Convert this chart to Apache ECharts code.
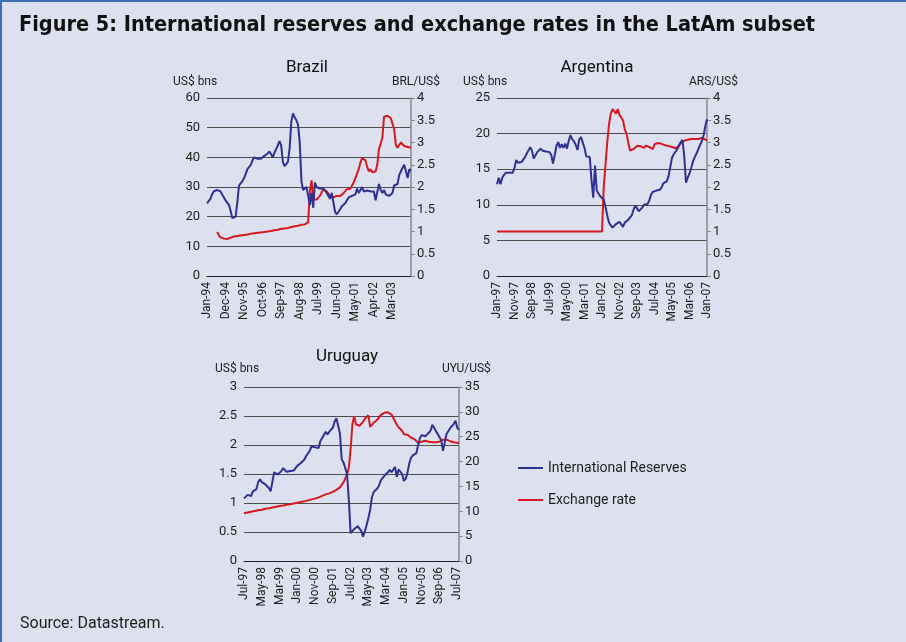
<!DOCTYPE html>
<html>
<head>
<meta charset="utf-8">
<script src="https://cdn.jsdelivr.net/npm/echarts@6/dist/echarts.min.js"></script>
<style>
  html, body { margin: 0; padding: 0; background: #dde0ef; }
  #chart { position: absolute; left: 0; top: 0; width: 906px; height: 642px; }
  #frame { position: absolute; left: 0; top: 0; width: 906px; height: 642px; box-sizing: border-box;
           border-top: 2px solid #3f6fb6; border-left: 2px solid #3f6fb6; pointer-events: none; }
</style>
</head>
<body>
<div id="chart"></div>
<div id="frame"></div>
<script>
// month labels like 'Jan-94'
const MONTHS = ['Jan', 'Feb', 'Mar', 'Apr', 'May', 'Jun', 'Jul', 'Aug', 'Sep', 'Oct', 'Nov', 'Dec']
function monthRange(year, month, count) {
  const out = []
  for (let i = 0; i < count; i++) {
    const m = (month + i) % 12
    const y = year + Math.floor((month + i) / 12)
    out.push(MONTHS[m] + '-' + String(y).slice(2))
  }
  return out
}

// Brazil: Jan-94 .. Feb-04
const brazilMonths = monthRange(1994, 0, 122)
const brazilReserves = [
  24.5, 25, 26, 27.5, 28.5, 29, 29, 28.8, 28.5, 27.5, 27, 25.5,
  25, 24, 22, 19.5, 19, 20, 25, 30.5, 31, 32, 33, 34.5,
  36, 36.5, 37.5, 39, 40, 40.2, 39.5, 39.8, 39.5, 40, 40.5, 41,
  41.3, 42, 41, 40, 41.5, 41, 44, 45.5, 44, 38.5, 37, 37.5,
  38.5, 43, 52, 54.8, 53.5, 52.5, 51, 45, 32, 29, 28.5, 30,
  27, 24, 28, 23, 31.5, 30, 29.5, 29.5, 29, 29.5, 29.5, 28,
  27.5, 26, 28, 28.5, 21.5, 20.8, 21, 22.5, 23.5, 23.8, 24.5, 25.5,
  26.5, 27, 27, 27.2, 27.5, 29.5, 28, 29, 30, 28.5, 29, 28.8,
  29, 28.5, 28.8, 28.5, 25.5, 25, 31, 29, 28, 29, 27.5, 27,
  27, 27.5, 28, 30.5, 30, 31, 34, 34.5, 36.5, 37.5, 37, 33,
  36, 35.5
]
const brazilRate = [
  null, null, null, null, null, null, 0.99, 0.92, 0.87, 0.85, 0.84, 0.83,
  0.83, 0.84, 0.86, 0.88, 0.89, 0.9, 0.9, 0.91, 0.91, 0.92, 0.92, 0.93,
  0.93, 0.94, 0.95, 0.95, 0.96, 0.96, 0.97, 0.97, 0.98, 0.99, 0.99, 1.0,
  1.0, 1.01, 1.01, 1.02, 1.03, 1.04, 1.04, 1.05, 1.06, 1.06, 1.07, 1.08,
  1.08, 1.09, 1.10, 1.11, 1.12, 1.13, 1.13, 1.14, 1.15, 1.16, 1.16, 1.18,
  1.21, 1.9, 2.15, 1.72, 1.68, 1.72, 1.76, 1.8, 1.88, 1.95, 1.93, 1.9,
  1.85, 1.8, 1.78, 1.77, 1.8, 1.8, 1.81, 1.8, 1.83, 1.86, 1.9, 1.95,
  1.97, 1.96, 2.0, 2.1, 2.2, 2.3, 2.4, 2.55, 2.65, 2.68, 2.6, 2.45,
  2.35, 2.4, 2.33, 2.3, 2.35, 2.5, 2.85, 2.97, 3.1, 3.58, 3.6, 3.6,
  3.57, 3.55, 3.58, 3.3, 2.95, 2.88, 2.9, 3.0, 2.97, 2.92, 2.88, 2.9,
  2.87, 2.88
]

// Argentina: Jan-97 .. Jan-07
const argentinaMonths = monthRange(1997, 0, 121)
const argentinaReserves = [
  12.9, 13.8, 12.9, 13.8, 14.2, 14.5, 14.6, 14.5, 14.3, 14.5, 15.2, 16.3,
  15.9, 16, 16, 15.9, 16.7, 17.2, 17.1, 18.1, 17.6, 16.5, 16.5, 17.4,
  17.6, 17.9, 17.6, 17.4, 17.5, 17.6, 17.4, 17, 15.8, 17, 18.3, 18.8,
  18, 18.5, 18, 18.6, 17.9, 19, 19.8, 19.2, 18.9, 18.4, 17.7, 19.2,
  19.5, 19.6, 18, 16.8, 16.6, 16.7, 13.5, 11, 15.5, 12, 11.6, 11.2,
  11, 10.7, 9.7, 8.5, 7.5, 7.1, 6.8, 7, 7.3, 7.5, 7.6, 7.4,
  6.9, 7.5, 7.7, 7.9, 8.1, 8.5, 9.3, 9.9, 9.5, 9.1, 9.3, 9.6,
  10, 10, 10.1, 10.6, 11.4, 11.8, 12, 12, 12, 12.1, 12.4, 13,
  13.2, 13.3, 14, 15.3, 16.6, 17.1, 17.3, 17.8, 18.4, 18.8, 19.1, 16.8,
  13.1, 13.8, 14.4, 15.2, 16.1, 16.7, 17.2, 17.8, 18.4, 18.9, 19.7, 21,
  22
]
const argentinaRate = [
  1, 1, 1, 1, 1, 1, 1, 1, 1, 1, 1, 1,
  1, 1, 1, 1, 1, 1, 1, 1, 1, 1, 1, 1,
  1, 1, 1, 1, 1, 1, 1, 1, 1, 1, 1, 1,
  1, 1, 1, 1, 1, 1, 1, 1, 1, 1, 1, 1,
  1, 1, 1, 1, 1, 1, 1, 1, 1, 1, 1, 1,
  1, 2.0, 2.5, 3.0, 3.4, 3.65, 3.75, 3.7, 3.65, 3.75, 3.62, 3.62,
  3.5, 3.3, 3.2, 3.0, 2.82, 2.8, 2.85, 2.82, 2.92, 2.88, 2.92, 2.9,
  2.88, 2.93, 2.95, 2.9, 2.92, 2.85, 2.96, 2.98, 2.99, 2.98, 2.97, 2.96,
  2.94, 2.93, 2.92, 2.9, 2.9, 2.88, 2.87, 2.88, 2.92, 2.98, 3.02, 3.04,
  3.06, 3.06, 3.07, 3.08, 3.07, 3.08, 3.09, 3.08, 3.1, 3.1, 3.09, 3.07,
  3.05
]

// Uruguay: Jul-97 .. Aug-07
const uruguayMonths = monthRange(1997, 6, 122)
const uruguayReserves = [
  1.08, 1.11, 1.14, 1.12, 1.12, 1.2, 1.22, 1.24, 1.36, 1.41, 1.36, 1.34,
  1.32, 1.3, 1.26, 1.2, 1.37, 1.53, 1.51, 1.49, 1.5, 1.55, 1.6, 1.57,
  1.54, 1.53, 1.55, 1.55, 1.56, 1.6, 1.64, 1.66, 1.69, 1.71, 1.75, 1.81,
  1.84, 1.9, 1.98, 2.0, 1.96, 1.98, 1.95, 2.07, 2.12, 2.12, 2.23, 2.18,
  2.23, 2.22, 2.3, 2.4, 2.46, 2.48, 2.2, 1.75, 1.7, 1.67, 1.5, 1.05,
  0.48, 0.51, 0.55, 0.54, 0.6, 0.56, 0.52, 0.42, 0.51, 0.62, 0.74, 0.88,
  1.1, 1.19, 1.22, 1.25, 1.3, 1.39, 1.43, 1.47, 1.5, 1.53, 1.57, 1.53,
  1.5, 1.62, 1.45, 1.58, 1.58, 1.5, 1.38, 1.42, 1.52, 1.68, 1.78, 1.82,
  1.8, 1.86, 2.0, 2.12, 2.17, 2.18, 2.15, 2.16, 2.21, 2.25, 2.35, 2.37,
  2.24, 2.19, 2.17, 2.08, 1.9, 2.05, 2.19, 2.22, 2.29, 2.32, 2.36, 2.42,
  2.3, 2.26
]
const uruguayRate = [
  9.6, 9.7, 9.75, 9.8, 9.9, 10.0, 10.05, 10.1, 10.2, 10.25, 10.3, 10.4,
  10.5, 10.55, 10.6, 10.7, 10.75, 10.8, 10.9, 11.0, 11.05, 11.1, 11.15, 11.2,
  11.3, 11.35, 11.4, 11.5, 11.55, 11.6, 11.7, 11.8, 11.85, 11.9, 12.0, 12.1,
  12.2, 12.3, 12.4, 12.45, 12.55, 12.65, 12.8, 12.95, 13.1, 13.25, 13.4, 13.5,
  13.6, 13.75, 13.9, 14.1, 14.3, 14.5, 14.8, 15.2, 15.8, 16.6, 17.4, 18.8,
  22.5, 27.5, 29.1, 27.5, 27.1, 27.2, 27.4, 28.0, 28.6, 29.0, 29.3, 27.0,
  27.4, 27.8, 28.1, 28.4, 28.9, 29.4, 29.7, 29.8, 29.9, 29.9, 29.8, 29.5,
  28.8, 28.1, 27.4, 26.9, 26.5, 26.2, 25.5, 25.8, 25.4, 25.0, 24.8, 24.6,
  24.5, 24.3, 23.8, 23.7, 24.0, 24.2, 24.2, 24.1, 24.0, 23.9, 23.9, 23.9,
  23.9, 23.9, 24.0, 24.1, 24.4, 24.5, 24.4, 24.3, 24.1, 24.0, 23.9, 23.9,
  23.8, 23.7
]

const BLUE = '#2e3192'
const RED = '#d7191f'
const FONT = 'Roboto'
const TEXT = '#1e1e1e'

// one panel = grid + bottom date axis + left reserves axis + right fx axis
const panels = [
  { name: 'Brazil', months: brazilMonths, res: brazilReserves, fx: brazilRate, every: 11, maxIdx: 110,
    grid: { left: 207, top: 98, width: 204, height: 178 }, leftMax: 60, leftStep: 10, rightMax: 4, rightStep: 0.5,
    unitL: { x: 173, y: 82 }, unitR: { x: 392, y: 82, text: 'BRL/US$' }, title: { x: 307, y: 68 } },
  { name: 'Argentina', months: argentinaMonths, res: argentinaReserves, fx: argentinaRate, every: 10, maxIdx: 120,
    grid: { left: 497, top: 98, width: 210, height: 178 }, leftMax: 25, leftStep: 5, rightMax: 4, rightStep: 0.5,
    unitL: { x: 463, y: 82 }, unitR: { x: 689, y: 82, text: 'ARS/US$' }, title: { x: 597, y: 68 } },
  { name: 'Uruguay', months: uruguayMonths, res: uruguayReserves, fx: uruguayRate, every: 10, maxIdx: 120,
    grid: { left: 244, top: 387, width: 215, height: 174 }, leftMax: 3, leftStep: 0.5, rightMax: 35, rightStep: 5,
    unitL: { x: 215, y: 369 }, unitR: { x: 442, y: 369, text: 'UYU/US$' }, title: { x: 347, y: 357 } }
]

const grids = []
const xAxes = []
const yAxes = []
const series = []
const graphics = []

panels.forEach((p, i) => {
  grids.push(Object.assign({ containLabel: false }, p.grid))
  xAxes.push({
    type: 'category', gridIndex: i, data: p.months, boundaryGap: false,
    axisLine: { lineStyle: { color: '#222', width: 1 } },
    axisTick: { show: false },
    axisLabel: {
      rotate: 90, margin: 6, fontSize: 12, color: TEXT, fontFamily: FONT,
      interval: (idx) => idx % p.every === 0 && idx <= p.maxIdx
    }
  })
  yAxes.push({
    type: 'value', gridIndex: i, position: 'left', min: 0, max: p.leftMax, interval: p.leftStep,
    axisLine: { show: false }, axisTick: { show: false },
    axisLabel: { margin: 7, fontSize: 13, color: TEXT, fontFamily: FONT },
    splitLine: { lineStyle: { color: '#4d4d4d', width: 1 } }
  })
  yAxes.push({
    type: 'value', gridIndex: i, position: 'right', min: 0, max: p.rightMax, interval: p.rightStep,
    axisLine: { show: true, lineStyle: { color: '#8a8a8a', width: 1.5 } },
    axisTick: { show: true, length: 4, lineStyle: { color: '#8a8a8a' } },
    axisLabel: { margin: 6, fontSize: 13, color: TEXT, fontFamily: FONT },
    splitLine: { show: false }
  })
  series.push({
    name: 'International Reserves', type: 'line', xAxisIndex: i, yAxisIndex: i * 2,
    data: p.res, showSymbol: false, lineStyle: { color: BLUE, width: 2 }, itemStyle: { color: BLUE }, z: 3
  })
  series.push({
    name: 'Exchange rate', type: 'line', xAxisIndex: i, yAxisIndex: i * 2 + 1,
    data: p.fx, showSymbol: false, lineStyle: { color: RED, width: 2 }, itemStyle: { color: RED }, z: 2
  })
  graphics.push({ type: 'text', x: p.title.x, y: p.title.y,
    style: { text: p.name, font: '17px ' + FONT, fill: '#111', textAlign: 'center', textVerticalAlign: 'middle' } })
  graphics.push({ type: 'text', x: p.unitL.x, y: p.unitL.y,
    style: { text: 'US$ bns', font: '12px ' + FONT, fill: TEXT, textAlign: 'left', textVerticalAlign: 'middle' } })
  graphics.push({ type: 'text', x: p.unitR.x, y: p.unitR.y,
    style: { text: p.unitR.text, font: '12px ' + FONT, fill: TEXT, textAlign: 'left', textVerticalAlign: 'middle' } })
})

const chart = echarts.init(document.getElementById('chart'))
chart.setOption({
  backgroundColor: '#dde0ef',
  animation: false,
  title: [
    {
      text: 'Figure 5: International reserves and exchange rates in the LatAm subset',
      left: 14, top: 9,
      textStyle: { fontFamily: 'DejaVu Sans Condensed', fontWeight: 'bold', fontSize: 21.5, color: '#111' }
    },
    {
      text: 'Source: Datastream.',
      left: 15, top: 611,
      textStyle: { fontFamily: FONT, fontWeight: 'normal', fontSize: 16, color: TEXT }
    }
  ],
  legend: {
    orient: 'vertical', left: 513, top: 456, itemGap: 18,
    itemWidth: 25, itemHeight: 2, icon: 'rect',
    data: ['International Reserves', 'Exchange rate'],
    textStyle: { fontFamily: FONT, fontSize: 14, color: TEXT }
  },
  grid: grids,
  xAxis: xAxes,
  yAxis: yAxes,
  series: series,
  graphic: graphics
})
</script>
</body>
</html>
